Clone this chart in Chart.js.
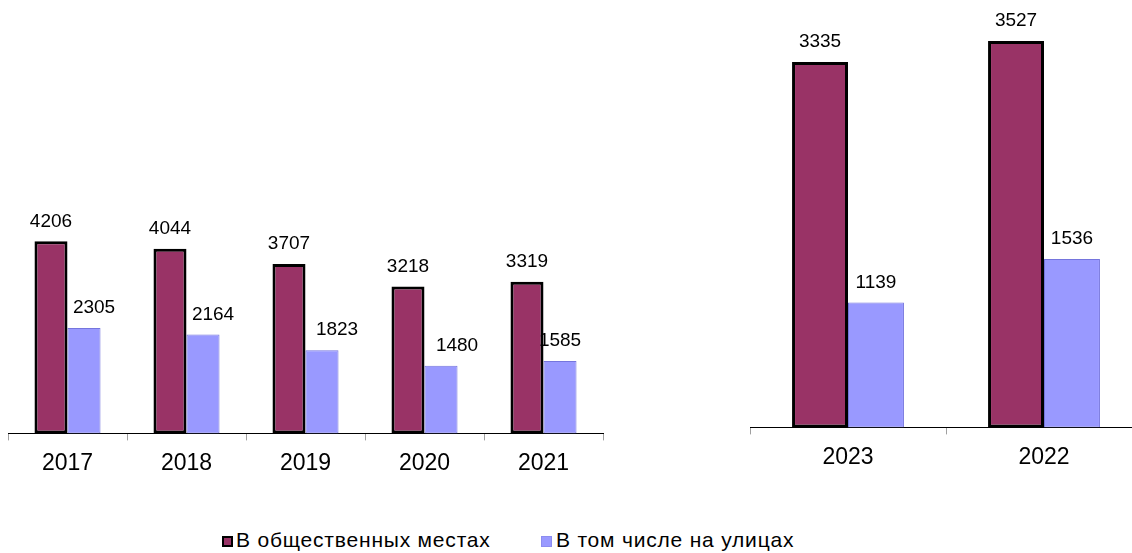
<!DOCTYPE html>
<html>
<head>
<meta charset="utf-8">
<script src="https://cdn.jsdelivr.net/npm/chart.js@4"></script>
<style>
  html, body { margin: 0; padding: 0; background: #fff; overflow: hidden; }
  body { width: 1132px; height: 553px; position: relative; font-family: "Liberation Sans", Arial, sans-serif; }
  canvas { position: absolute; top: 0; }
  #leftChart { left: 0; }
  #rightChart { left: 740px; }
  .legend { position: absolute; top: 528px; font-size: 21px; letter-spacing: 0.8px; color: #000; white-space: nowrap; }
  .mark { position: absolute; width: 11px; height: 11px; box-sizing: border-box; }
</style>
</head>
<body>
<canvas id="leftChart" width="615" height="486"></canvas>
<canvas id="rightChart" width="430" height="480"></canvas>
<span class="mark" id="mark0" style="left:222px; top:536px;"></span>
<span class="legend" id="leg0" style="left:236px;"></span>
<span class="mark" id="mark1" style="left:541px; top:536px;"></span>
<span class="legend" id="leg1" style="left:556px;"></span>
<script>
// ===========================
// Data
// ===========================
const seriesNames = ["В общественных местах", "В том числе на улицах"];

const leftYears = ["2017", "2018", "2019", "2020", "2021"];
const leftPublic = [4206, 4044, 3707, 3218, 3319];
const leftStreets = [2305, 2164, 1823, 1480, 1585];

const rightYears = ["2023", "2022"];
const rightPublic = [3335, 3527];
const rightStreets = [1139, 1536];

const MAROON = "#993366";
const BLUE = "#9999FF";
const FONT = '"Liberation Sans", Arial, sans-serif';

// legend (html)
document.getElementById("leg0").innerText = seriesNames[0];
document.getElementById("leg1").innerText = seriesNames[1];
const m0 = document.getElementById("mark0");
m0.style.background = MAROON; m0.style.border = "2px solid #000";
const m1 = document.getElementById("mark1");
m1.style.background = BLUE; m1.style.border = "1px solid #8c8cf0";

// value labels above bars (shift = horizontal nudge per dataset / point)
const valueLabels = {
  id: "valueLabels",
  afterDatasetsDraw(chart, args, opts) {
    const ctx = chart.ctx;
    ctx.save();
    ctx.font = "19px " + FONT;
    ctx.fillStyle = "#000";
    ctx.textAlign = "center";
    ctx.textBaseline = "middle";
    chart.data.datasets.forEach((ds, i) => {
      const meta = chart.getDatasetMeta(i);
      const shifts = (opts.shift && opts.shift[i]) || [];
      meta.data.forEach((bar, j) => {
        ctx.fillText(String(ds.data[j]), bar.x + (shifts[j] || 0), bar.y - 20);
      });
    });
    ctx.restore();
  }
};

function makeChart(id, labels, pub, str, opt) {
  return new Chart(document.getElementById(id), {
    type: "bar",
    data: {
      labels: labels,
      datasets: [{
        label: seriesNames[0],
        data: pub,
        backgroundColor: MAROON,
        borderColor: "#000",
        borderWidth: 3,
        borderSkipped: false,
        categoryPercentage: opt.catPct,
        barPercentage: 1
      }, {
        label: seriesNames[1],
        data: str,
        backgroundColor: BLUE,
        borderColor: "#7575dd",
        borderWidth: 1,
        borderSkipped: false,
        categoryPercentage: opt.catPct,
        barPercentage: 1
      }]
    },
    options: {
      responsive: false,
      animation: false,
      layout: { padding: opt.padding },
      scales: {
        y: { display: false, min: 0, max: opt.max },
        x: {
          border: { display: true, color: "#000", width: 1 },
          grid: { drawOnChartArea: false, drawTicks: true, tickLength: 7, color: "#a0a0a0", offset: true },
          ticks: { color: "#000", font: { family: FONT, size: 23 }, padding: 9 }
        }
      },
      plugins: {
        legend: { display: false },
        tooltip: { enabled: false },
        valueLabels: { shift: opt.shift }
      }
    },
    plugins: [valueLabels]
  });
}

makeChart("leftChart", leftYears, leftPublic, leftStreets, {
  catPct: 0.555, max: 5000, shift: [[0, 0, 0, 0, 0], [10, 10, 15, 16, 0]],
  padding: { top: 205, left: 8, right: 12, bottom: 0 }
});

makeChart("rightChart", rightYears, rightPublic, rightStreets, {
  catPct: 0.571, max: 3900, shift: [[0, 0], [0, 0]],
  padding: { top: 0, left: 10, right: 28, bottom: 0 }
});
</script>
</body>
</html>
